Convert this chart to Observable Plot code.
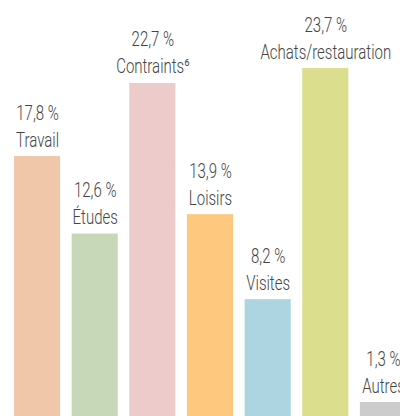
<!DOCTYPE html>
<html>
<head>
<meta charset="utf-8">
<script src="https://cdn.jsdelivr.net/npm/d3@7"></script>
<script src="https://cdn.jsdelivr.net/npm/@observablehq/plot@0.6"></script>
<style>
  html, body { margin: 0; padding: 0; background: #fff; overflow: hidden; }
  #chart svg { display: block; }
</style>
</head>
<body>
<div id="chart"></div>
<script>
const categories = ["Travail", "Études", "Contraints⁶", "Loisirs", "Visites", "Achats/restauration", "Autres"];
const shares = [17.8, 12.6, 22.7, 13.9, 8.2, 23.7, 1.3];

const data = categories.map((c, i) => ({
  category: c,
  share: shares[i],
  label: shares[i].toFixed(1).replace(".", ",") + " %"
}));

const font = "Roboto, 'Liberation Sans', sans-serif";

const chart = Plot.plot({
  width: 400,
  height: 416,
  margin: 0,
  style: { fontFamily: font, background: "#fff", overflow: "hidden" },
  x: { domain: categories, range: [14, 406], paddingInner: 0.2, paddingOuter: 0, round: false, axis: null },
  y: { domain: [0, 24], range: [421.4, 63.6], axis: null },
  color: {
    domain: categories,
    range: ["#f0c8a9", "#c7d8b8", "#eecbcb", "#fec87f", "#acd5e1", "#dbde8d", "#cccccc"]
  },
  marks: [
    Plot.barY(data, { x: "category", y: "share", fill: "category" }),
    Plot.text(data, {
      x: "category", y: "share", text: "category",
      lineAnchor: "bottom", dy: -10, fontSize: 20, fontWeight: 300, fill: "#444", textAnchor: "middle"
    }),
    Plot.text(data, {
      x: "category", y: "share", text: "label",
      lineAnchor: "bottom", dy: -37, fontSize: 20, fontWeight: 300, fill: "#444", textAnchor: "middle"
    })
  ]
});

// condense the type horizontally (narrow face as in the original)
d3.select(chart).selectAll("g[aria-label='text'] text").each(function () {
  const t = this.getAttribute("transform");
  if (t) {
    this.setAttribute("transform", t + " scale(0.75,1)");
  } else {
    const x = +this.getAttribute("x") || 0;
    this.setAttribute("transform", `translate(${x},0) scale(0.75,1) translate(${-x},0)`);
  }
});

document.getElementById("chart").append(chart);
</script>
</body>
</html>
